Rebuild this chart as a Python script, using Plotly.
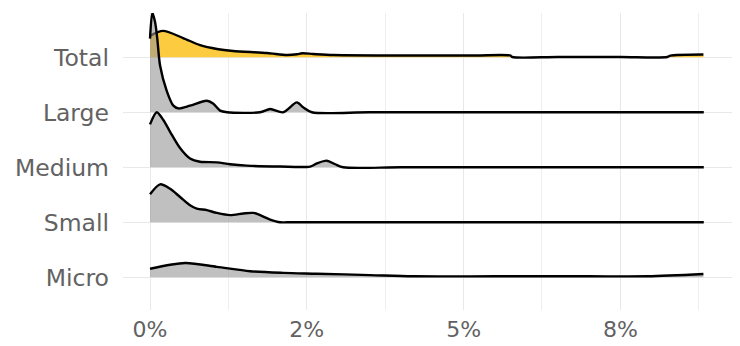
import plotly.graph_objects as go

# Ridge profiles: x positions in percent, ridge heights in row units
categories = ["Micro", "Small", "Medium", "Large", "Total"]

total_x = [0.0, 0.207, 0.527, 0.798, 1.069, 1.324, 1.867, 2.186, 2.346, 2.425, 2.601, 2.920,
           3.718, 4.5, 5.2, 5.744, 5.776, 6.5, 7.5, 8.250, 8.298, 8.824]
total_h = [0.39, 0.48, 0.35, 0.22, 0.15, 0.115, 0.078, 0.04, 0.055, 0.073, 0.06, 0.04,
           0.033, 0.033, 0.033, 0.033, 0.005, 0.005, 0.005, 0.005, 0.03, 0.05]

large_x = [0.0, 0.037, 0.080, 0.116, 0.160, 0.266, 0.372, 0.452, 0.638, 0.905, 1.005, 1.117,
           1.229, 1.755, 1.915, 2.122, 2.341, 2.441, 2.580, 3.5, 5.0, 6.5, 8.0, 8.83]
large_h = [1.34, 1.81, 1.64, 1.34, 0.85, 0.39, 0.12, 0.07, 0.12, 0.21, 0.16, 0.03,
           0.0, 0.0, 0.06, 0.0, 0.18, 0.09, 0.0, 0.0, 0.0, 0.0, 0.0, 0.0]

medium_x = [0.0, 0.107, 0.212, 0.318, 0.478, 0.638, 0.798, 1.064, 1.276, 1.542, 2.074, 2.553,
            2.660, 2.819, 2.952, 3.080, 4.0, 5.5, 7.0, 8.83]
medium_h = [0.78, 1.00, 0.86, 0.65, 0.35, 0.16, 0.10, 0.09, 0.055, 0.03, 0.013, 0.013,
            0.07, 0.12, 0.055, 0.0, 0.0, 0.0, 0.0, 0.0]

small_x = [0.0, 0.160, 0.319, 0.479, 0.638, 0.745, 0.905, 1.064, 1.277, 1.489, 1.648, 1.755,
           1.915, 2.074, 2.186, 3.5, 5.0, 6.5, 8.0, 8.83]
small_h = [0.51, 0.69, 0.61, 0.46, 0.31, 0.25, 0.22, 0.17, 0.13, 0.16, 0.17, 0.13,
           0.05, 0.0, 0.0, 0.0, 0.0, 0.0, 0.0, 0.0]

micro_x = [0.0, 0.558, 1.064, 1.596, 2.127, 2.660, 3.510, 4.197, 5.5, 7.0, 7.930, 8.824]
micro_h = [0.155, 0.26, 0.19, 0.11, 0.08, 0.065, 0.04, 0.018, 0.018, 0.018, 0.018, 0.06]

tick_vals = [0, 2.5, 5, 7.5]
tick_text = ["0%", "2%", "5%", "8%"]
minor_vals = [1.25, 3.75, 6.25, 8.75]

GREY_FILL = "rgba(150,150,150,0.6)"
ridges = {
    "Total": (total_x, total_h, "#FDCB3F"),
    "Large": (large_x, large_h, GREY_FILL),
    "Medium": (medium_x, medium_h, GREY_FILL),
    "Small": (small_x, small_h, GREY_FILL),
    "Micro": (micro_x, micro_h, GREY_FILL),
}

fig = go.Figure()

# draw from the top row downwards so lower ridges overlap upper ones
for name in ["Total", "Large", "Medium", "Small", "Micro"]:
    xs, hs, fill = ridges[name]
    base = categories.index(name) + 1
    fig.add_trace(go.Scatter(
        x=[xs[0], xs[-1]], y=[base, base], mode="lines",
        line=dict(width=0, color="rgba(0,0,0,0)"), hoverinfo="skip", showlegend=False))
    fig.add_trace(go.Scatter(
        x=xs, y=[base + h for h in hs], mode="lines", fill="tonexty", fillcolor=fill,
        line=dict(color="black", width=2.4, shape="spline", smoothing=0.8),
        showlegend=False, name=name))

fig.update_layout(
    width=740, height=346,
    margin=dict(l=123, r=8, t=13, b=36),
    paper_bgcolor="white", plot_bgcolor="white",
    font=dict(family="DejaVu Sans", size=23.5, color="#626262"),
)
fig.update_xaxes(
    range=[-0.431, 9.28], tickvals=tick_vals, ticktext=tick_text, automargin=False,
    showgrid=True, gridcolor="#E8E8E8", gridwidth=1.4, zeroline=False, showline=False,
    ticks="", ticklabelstandoff=4, tickfont=dict(size=22),
    minor=dict(tickvals=minor_vals, showgrid=True, gridcolor="#EEEEEE", gridwidth=1.1),
)
fig.update_yaxes(
    range=[0.405, 5.805], tickvals=[1, 2, 3, 4, 5], ticktext=categories, automargin=False,
    showgrid=True, gridcolor="#E8E8E8", gridwidth=1.4, zeroline=False, showline=False,
    ticks="", ticklabelstandoff=13,
)

fig.write_html("out.html")
